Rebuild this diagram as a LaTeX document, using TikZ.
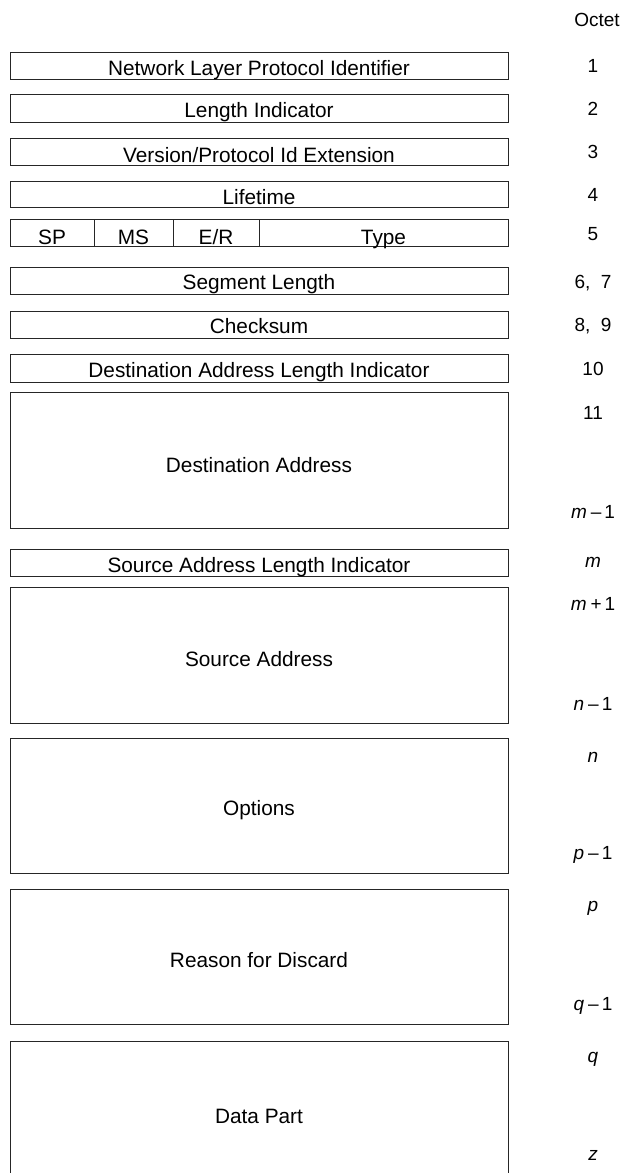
\documentclass[tikz,border=0pt]{standalone}
\usepackage{fontspec}
\setmainfont{Liberation Sans}
\begin{document}
\begin{tikzpicture}[x=1pt,y=-1pt,
  box/.style={draw=black!85, line width=1pt, minimum width=498pt, inner sep=0pt, outer sep=0pt},
  btext/.style={font=\fontsize{20.8}{24}\selectfont, anchor=base, inner sep=0pt},
  lbl/.style={font=\fontsize{19}{22}\selectfont, anchor=base, inner sep=0pt}]
\path[use as bounding box] (0,0) rectangle (621,1173);
\clip (0,0) rectangle (621,1173);
% boxes
\node[box, minimum height=27pt] (b1) at (259,65.5) {};
\node[box, minimum height=28pt] (b2) at (259,108) {};
\node[box, minimum height=27pt] (b3) at (259,151.5) {};
\node[box, minimum height=26pt] (b4) at (259,194) {};
\node[box, minimum height=27pt, minimum width=84pt] (sp) at (52,232.5) {};
\node[box, minimum height=27pt, minimum width=79pt] (ms) at (133.5,232.5) {};
\node[box, minimum height=27pt, minimum width=86pt] (er) at (216,232.5) {};
\node[box, minimum height=27pt, minimum width=249pt] (ty) at (383.5,232.5) {};
\node[box, minimum height=27pt] (b6) at (259,280.5) {};
\node[box, minimum height=27pt] (b7) at (259,324.5) {};
\node[box, minimum height=28pt] (b8) at (259,368) {};
\node[box, minimum height=136pt] (b9) at (259,460) {};
\node[box, minimum height=27pt] (b10) at (259,562.5) {};
\node[box, minimum height=136pt] (b11) at (259,655) {};
\node[box, minimum height=135pt] (b12) at (259,805.5) {};
\node[box, minimum height=135pt] (b13) at (259,956.5) {};
\node[box, minimum height=137pt] (b14) at (259,1109.5) {};
% box texts
\node[btext] (t1) at ([yshift=3.5pt]b1.south) {Network Layer Protocol Identifier};
\node[btext] (t2) at ([yshift=4.5pt]b2.south) {Length Indicator};
\node[btext] (t3) at ([yshift=3pt]b3.south) {Version/Protocol Id Extension};
\node[btext] (t4) at ([yshift=2.5pt]b4.south) {Lifetime};
\node[btext] (tsp) at ([yshift=1.5pt]sp.south) {SP};
\node[btext] (tms) at ([yshift=1.5pt]ms.south) {MS};
\node[btext] (ter) at ([yshift=1.5pt]er.south) {E/R};
\node[btext] (tty) at ([yshift=1.5pt]ty.south) {Type};
\node[btext] (t6) at ([yshift=5pt]b6.south) {Segment Length};
\node[btext] (t7) at ([yshift=5pt]b7.south) {Checksum};
\node[btext] (t8) at ([yshift=5pt]b8.south) {Destination Address Length Indicator};
\node[btext] (t9) at ([yshift=-12pt]b9.center) {Destination Address};
\node[btext] (t10) at ([yshift=4pt]b10.south) {Source Address Length Indicator};
\node[btext] (t11) at ([yshift=-11pt]b11.center) {Source Address};
\node[btext] (t12) at ([yshift=-10pt]b12.center) {Options};
\node[btext] (t13) at ([yshift=-11pt]b13.center) {Reason for Discard};
\node[btext] (t14) at ([yshift=-14pt]b14.center) {Data Part};
% octet labels
\node[lbl] (oct) at (597,26) {Octet};
\node[lbl] (o1) at (593,72) {1};
\node[lbl] (o2) at (593,115) {2};
\node[lbl] (o3) at (593,158) {3};
\node[lbl] (o4) at (593,201) {4};
\node[lbl] (o5) at (593,240) {5};
\node[lbl] (o67) at (593,288) {6,\ \ 7};
\node[lbl] (o89) at (593,331) {8,\ \ 9};
\node[lbl] (o10) at (593,375) {10};
\node[lbl] (o11) at (593,419) {11};
\node[lbl] (om1) at (593,518) {\textit{m}\hspace{4pt}–\hspace{3pt}1};
\node[lbl] (om) at (593,567) {\textit{m}};
\node[lbl] (omp) at (593,610) {\textit{m}\hspace{4pt}+\hspace{3pt}1};
\node[lbl] (on1) at (593,710) {\textit{n}\hspace{4pt}–\hspace{3pt}1};
\node[lbl] (on) at (593,762) {\textit{n}};
\node[lbl] (op1) at (593,859) {\textit{p}\hspace{4pt}–\hspace{3pt}1};
\node[lbl] (op) at (593,911) {\textit{p}};
\node[lbl] (oq1) at (593,1010) {\textit{q}\hspace{4pt}–\hspace{3pt}1};
\node[lbl] (oq) at (593,1062) {\textit{q}};
\node[lbl] (oz) at (593,1160) {\textit{z}};
\end{tikzpicture}
\end{document}
